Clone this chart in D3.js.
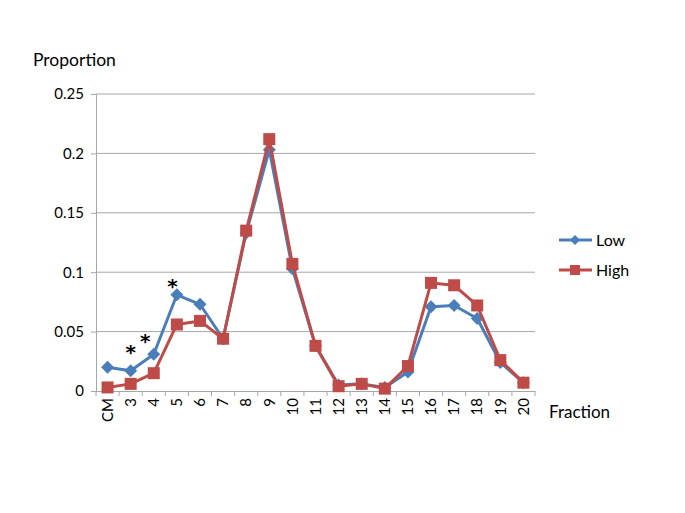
<!DOCTYPE html>
<html><head><meta charset="utf-8">
<script src="https://cdn.jsdelivr.net/npm/d3@7"></script>
<style>body{margin:0;background:#fff;}svg text{font-family:Lato,"Open Sans",sans-serif;fill:#000;}</style>
</head><body><svg id="c" width="685" height="513"></svg>
<script>
const categories = ["CM","3","4","5","6","7","8","9","10","11","12","13","14","15","16","17","18","19","20"];
const lowValues  = [0.020,0.017,0.031,0.081,0.073,0.044,0.133,0.203,0.103,0.038,0.005,0.006,0.003,0.016,0.071,0.072,0.061,0.024,0.007];
const highValues = [0.003,0.006,0.015,0.056,0.059,0.044,0.135,0.212,0.107,0.038,0.004,0.006,0.002,0.021,0.091,0.089,0.072,0.026,0.007];
const yTicks = [0,0.05,0.1,0.15,0.2,0.25];
const yTickLabels = ["0","0.05","0.1","0.15","0.2","0.25"];
const seriesNames = ["Low","High"];
const starCategories = ["3","4","5"];

const svg = d3.select("#c");
const L=96, R=535, T=94, B=391;
const x = d3.scaleBand().domain(categories).range([L,R]);
const y = d3.scaleLinear().domain([0,0.25]).range([B,T]);
const grid="#a6a6a6";
const font="Lato,'Open Sans',sans-serif";

svg.append("g").selectAll("line").data(yTicks.slice(1)).join("line")
  .attr("x1",L).attr("x2",R).attr("y1",d=>y(d)).attr("y2",d=>y(d))
  .attr("stroke",grid).attr("stroke-width",1);

const ya = svg.append("g").attr("transform",`translate(${L},0)`)
  .call(d3.axisLeft(y).tickValues(yTicks).tickFormat((d,i)=>yTickLabels[i]).tickSize(5).tickPadding(7));
ya.select(".domain").attr("stroke",grid);
ya.selectAll(".tick line").attr("stroke",grid);
ya.selectAll(".tick text").style("font-size","15px").style("font-family",font);

const xa = svg.append("g").attr("transform",`translate(0,${B})`)
  .call(d3.axisBottom(x).tickSize(0).tickPadding(6));
xa.select(".domain").attr("stroke",grid);
xa.selectAll(".tick text").attr("transform","rotate(-90)").attr("text-anchor","end")
  .attr("x",-7).attr("y",0).attr("dy","0.35em")
  .style("font-size","15px").style("font-family",font);
const bounds = categories.map(c=>x(c)).concat([R]);
xa.append("g").selectAll("line").data(bounds).join("line")
  .attr("x1",d=>d).attr("x2",d=>d).attr("y1",0).attr("y2",5).attr("stroke",grid);

const cx = c => x(c)+x.bandwidth()/2;
const line = d3.line().x((d,i)=>cx(categories[i])).y(d=>y(d));

const blue="#4a7ebb", red="#be4b48";
svg.append("path").datum(lowValues).attr("d",line).attr("fill","none").attr("stroke",blue).attr("stroke-width",3).attr("stroke-linejoin","round");
svg.append("g").selectAll("path").data(lowValues).join("path")
  .attr("d","M0,-6.5L6.5,0L0,6.5L-6.5,0Z")
  .attr("transform",(d,i)=>`translate(${cx(categories[i])},${y(d)})`).attr("fill",blue);

svg.append("path").datum(highValues).attr("d",line).attr("fill","none").attr("stroke",red).attr("stroke-width",3).attr("stroke-linejoin","round");
svg.append("g").selectAll("rect").data(highValues).join("rect")
  .attr("x",(d,i)=>cx(categories[i])-6).attr("y",d=>y(d)-6).attr("width",12).attr("height",12).attr("fill",red);

// asterisks
const starDx=[0,-8.5,-4.5], starDy=[-23,-17,-13];
svg.append("g").selectAll("text").data(starCategories).join("text")
  .attr("x",(d,i)=>cx(d)+starDx[i])
  .attr("y",(d,i)=>y(lowValues[categories.indexOf(d)])+starDy[i]+11)
  .attr("text-anchor","middle").style("font-family","'DejaVu Sans',sans-serif").style("font-weight","bold").style("font-size","20px").text("*");

svg.append("text").attr("x",33).attr("y",66).style("font-size","17.5px").text("Proportion");
svg.append("text").attr("x",549).attr("y",418).style("font-size","17px").text("Fraction");

const leg = svg.append("g");
seriesNames.forEach((n,i)=>{
  const ly = 240 + i*30, col = i===0?blue:red;
  leg.append("line").attr("x1",559).attr("x2",592).attr("y1",ly).attr("y2",ly).attr("stroke",col).attr("stroke-width",3);
  if(i===0) leg.append("path").attr("d","M0,-5L5,0L0,5L-5,0Z").attr("transform",`translate(575,${ly})`).attr("fill",col);
  else leg.append("rect").attr("x",570).attr("y",ly-5).attr("width",10).attr("height",10).attr("fill",col);
  leg.append("text").attr("x",596).attr("y",ly+5.5).style("font-size","16px").text(n);
});
</script></body></html>
